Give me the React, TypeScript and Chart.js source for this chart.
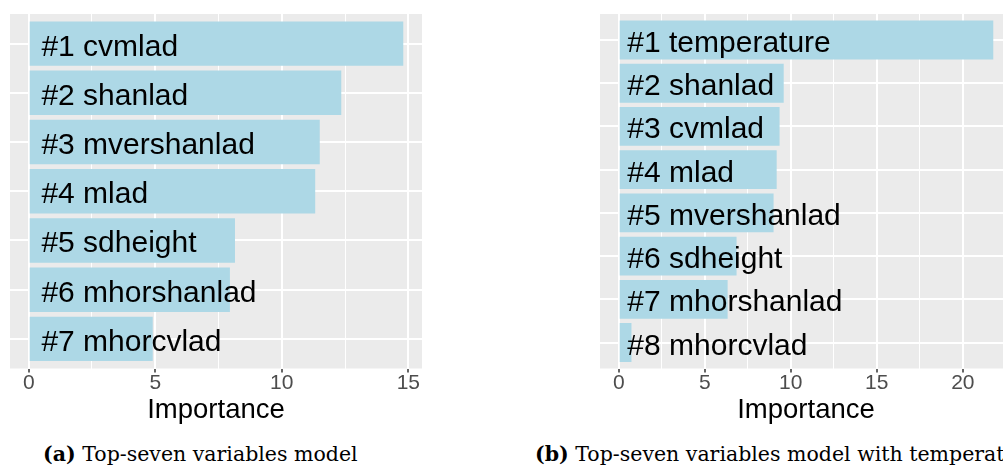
import React, { useEffect, useRef } from "react";
import { Chart, registerables } from "chart.js";

Chart.register(...registerables);

// Panel (a): top-seven variables model
const leftLabels = [
  "#1 cvmlad",
  "#2 shanlad",
  "#3 mvershanlad",
  "#4 mlad",
  "#5 sdheight",
  "#6 mhorshanlad",
  "#7 mhorcvlad",
];
const leftValues = [14.8, 12.35, 11.5, 11.32, 8.15, 7.95, 4.9];
const leftTicks = [0, 5, 10, 15];

// Panel (b): top-seven variables model with temperature
const rightLabels = [
  "#1 temperature",
  "#2 shanlad",
  "#3 cvmlad",
  "#4 mlad",
  "#5 mvershanlad",
  "#6 sdheight",
  "#7 mhorshanlad",
  "#8 mhorcvlad",
];
const rightValues = [21.77, 9.59, 9.35, 9.18, 9.0, 6.85, 6.33, 0.74];
const rightTicks = [0, 5, 10, 15, 20];

const SANS = '"Liberation Sans", Arial, Helvetica, sans-serif';
const PANEL_BG = "#EBEBEB";
const BAR_FILL = "#ADD8E6";

const panelBackground = {
  id: "panelBackground",
  beforeDraw(chart: any) {
    const { ctx, chartArea } = chart;
    ctx.save();
    ctx.fillStyle = PANEL_BG;
    ctx.fillRect(
      chartArea.left,
      chartArea.top,
      chartArea.right - chartArea.left,
      chartArea.bottom - chartArea.top
    );
    ctx.restore();
  },
};

function makeBarLabels(labels: string[]) {
  return {
    id: "barLabels",
    afterDatasetsDraw(chart: any) {
      const { ctx } = chart;
      const xs = chart.scales.x;
      const ys = chart.scales.y;
      ctx.save();
      ctx.font = `30px ${SANS}`;
      ctx.fillStyle = "#000000";
      ctx.textAlign = "left";
      ctx.textBaseline = "alphabetic";
      labels.forEach((t, i) => {
        ctx.fillText(t, xs.getPixelForValue(0.5), ys.getPixelForValue(i) + 12);
      });
      ctx.restore();
    },
  };
}

function makeConfig(labels: string[], values: number[], majors: number[]): any {
  const maxVal = Math.max(...values);
  const pad = maxVal * 0.05;
  const gridValues: number[] = [];
  for (let v = 0; v <= maxVal + pad + 1e-9; v += 2.5) gridValues.push(v);
  const isMajor = (v: number) => majors.includes(v);

  return {
    type: "bar",
    data: {
      datasets: [
        {
          data: values.map((v, i) => ({ x: v, y: i })),
          backgroundColor: BAR_FILL,
          borderWidth: 0,
          barPercentage: 0.9,
          categoryPercentage: 1,
        },
      ],
    },
    options: {
      indexAxis: "y",
      responsive: false,
      animation: false,
      events: [],
      layout: { padding: { left: 0, right: 0, top: 14, bottom: 0 } },
      plugins: {
        legend: { display: false },
        tooltip: { enabled: false },
        title: { display: false },
      },
      scales: {
        x: {
          type: "linear",
          min: -pad,
          max: maxVal + pad,
          afterBuildTicks: (scale: any) => {
            scale.ticks = gridValues.map((v) => ({ value: v }));
          },
          ticks: {
            autoSkip: false,
            maxRotation: 0,
            padding: 0,
            color: "#4D4D4D",
            font: { family: SANS, size: 21, lineHeight: 1 },
            callback: (v: any) => (isMajor(Number(v)) ? String(v) : ""),
          },
          grid: {
            color: "#FFFFFF",
            lineWidth: (c: any) => (c.tick && isMajor(c.tick.value) ? 2 : 1),
            tickColor: (c: any) =>
              c.tick && isMajor(c.tick.value) ? "#333333" : "rgba(0,0,0,0)",
            tickWidth: 1.5,
            tickLength: 4,
          },
          border: { display: false },
          title: {
            display: true,
            text: "Importance",
            color: "#000000",
            font: { family: SANS, size: 27.5, lineHeight: 1 },
            padding: { top: 3, bottom: 0 },
          },
        },
        y: {
          type: "linear",
          reverse: true,
          offset: false,
          bounds: "data",
          min: -0.6,
          max: labels.length - 1 + 0.6,
          afterBuildTicks: (scale: any) => {
            scale.ticks = labels.map((_, i) => ({ value: i }));
          },
          ticks: { display: false },
          grid: { color: "#FFFFFF", lineWidth: 2, drawTicks: false, offset: false },
          border: { display: false },
        },
      },
    },
    plugins: [panelBackground, makeBarLabels(labels)],
  };
}

function BarPanel(props: {
  labels: string[];
  values: number[];
  majors: number[];
  left: number;
  width: number;
  padLeft: number;
  padRight: number;
}) {
  const ref = useRef<HTMLCanvasElement | null>(null);
  useEffect(() => {
    if (!ref.current) return;
    const cfg = makeConfig(props.labels, props.values, props.majors);
    cfg.options.layout.padding.left = props.padLeft;
    cfg.options.layout.padding.right = props.padRight;
    const chart = new Chart(ref.current, cfg);
    return () => chart.destroy();
  }, []);
  const height = 424;
  return (
    <div style={{ position: "absolute", left: props.left, top: 0, width: props.width, height }}>
      <canvas ref={ref} width={props.width} height={height} style={{ display: "block", width: props.width, height }} />
    </div>
  );
}

const captionStyle: React.CSSProperties = {
  position: "absolute",
  top: 442,
  fontFamily: '"DejaVu Serif", "Liberation Serif", serif',
  fontSize: 20.5,
  lineHeight: "24px",
  whiteSpace: "nowrap",
  color: "#000",
};

export default function App() {
  return (
    <div
      style={{
        position: "absolute",
        left: 0,
        top: 0,
        width: 1003,
        height: 471,
        overflow: "hidden",
        background: "#FFFFFF",
      }}
    >
      <BarPanel labels={leftLabels} values={leftValues} majors={leftTicks} left={0} width={440} padLeft={10} padRight={18} />
      <BarPanel labels={rightLabels} values={rightValues} majors={rightTicks} left={580} width={450} padLeft={20} padRight={18} />
      <div style={{ ...captionStyle, left: 43 }}>
        <b>(a)</b> Top-seven variables model
      </div>
      <div style={{ ...captionStyle, left: 535 }}>
        <b>(b)</b> Top-seven variables model with temperature
      </div>
    </div>
  );
}
